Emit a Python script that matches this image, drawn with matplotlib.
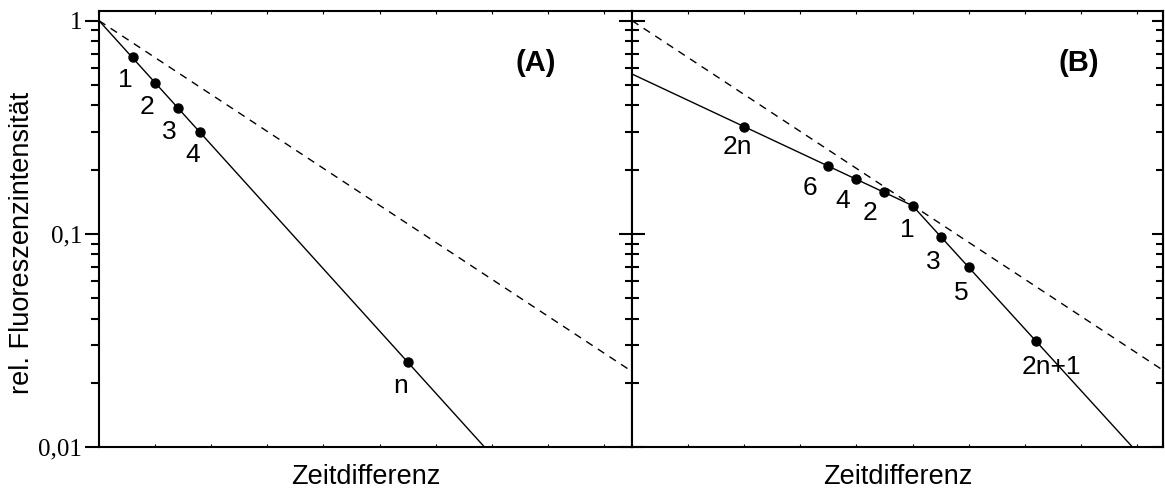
import matplotlib
matplotlib.use("Agg")
import matplotlib.pyplot as plt
from matplotlib.ticker import FixedLocator, LogLocator, NullFormatter, FixedFormatter

# ---- data -------------------------------------------------------------
# common reference decay (dashed) for both panels
ref_x = [0.0, 9.5]
ref_y = [1.0, 0.0226]

# panel A: single exponential decay
line_a_x = [0.0, 6.87]
line_a_y = [1.0, 0.01]
dots_a_x = [0.6, 1.0, 1.4, 1.8, 5.5]
dots_a_y = [0.672, 0.512, 0.391, 0.300, 0.0251]
labels_a = ["1", "2", "3", "4", "n"]

# panel B: alternating decay, slow (even) and fast (odd) branch
line_b_x = [0.0, 5.0, 8.92]
line_b_y = [0.562, 0.1356, 0.01]
dots_b_x = [2.0, 3.5, 4.0, 4.5, 5.0, 5.5, 6.0, 7.2]
dots_b_y = [0.318, 0.208, 0.180, 0.157, 0.1356, 0.097, 0.0697, 0.0315]
labels_b = ["2n", "6", "4", "2", "1", "3", "5", "2n+1"]

ytick_vals = [0.01, 0.1, 1.0]
ytick_text = ["0,01", "0,1", "1"]
xtick_vals = list(range(10))

# ---- layout -----------------------------------------------------------
W, H = 1165, 492
fig = plt.figure(figsize=(W / 100, H / 100), dpi=100)

bot = (H - 447) / H
top = (H - 11) / H
axA = fig.add_axes([99 / W, bot, (632 - 99) / W, top - bot])
axB = fig.add_axes([632 / W, bot, (1163 - 632) / W, top - bot])

sans = "Liberation Sans"
serif = "Liberation Serif"

off_a = [(-7, -23), (-8, -24), (-8, -24), (-7, -23), (-7, -24)]
off_b = [(-7, -20), (-18, -22), (-14, -22), (-14, -21), (-5, -24),
         (-7, -25), (-7, -26), (15, -26)]


def style(ax, xmax):
    ax.set_yscale("log")
    ax.set_ylim(0.01, 1.11)
    ax.set_xlim(0, xmax)
    for s in ax.spines.values():
        s.set_linewidth(1.5)
    ax.xaxis.set_major_locator(FixedLocator(xtick_vals))
    ax.xaxis.set_major_formatter(NullFormatter())
    ax.tick_params(axis="x", which="major", direction="in", length=2.5,
                   width=0.8, top=True, bottom=True)
    ax.yaxis.set_major_locator(FixedLocator(ytick_vals))
    ax.yaxis.set_minor_locator(LogLocator(base=10, subs=range(2, 10)))
    ax.yaxis.set_minor_formatter(NullFormatter())


def draw(ax, lx, ly, dx, dy, labels, offsets):
    ax.plot(ref_x, ref_y, color="black", lw=1.0, ls=(0, (5.5, 4.5)))
    ax.plot(lx, ly, color="black", lw=1.0)
    ax.plot(dx, dy, "o", color="black", ms=6.5, ls="none")
    for x, y, t, o in zip(dx, dy, labels, offsets):
        ax.annotate(t, (x, y), xytext=o, textcoords="offset pixels",
                    ha="center", va="center", fontsize=19, family=sans)


style(axA, 9.5)
style(axB, 9.465)

draw(axA, line_a_x, line_a_y, dots_a_x, dots_a_y, labels_a, off_a)
draw(axB, line_b_x, line_b_y, dots_b_x, dots_b_y, labels_b, off_b)

# y axis ticks: labelled outer ticks on A, shared inner spine, inner ticks on B's right
axA.yaxis.set_major_formatter(FixedFormatter(ytick_text))
axA.tick_params(axis="y", which="major", direction="out", length=10, width=1.5,
                left=True, right=False, labelsize=18, pad=2)
axA.tick_params(axis="y", which="minor", direction="out", length=6, width=1.5,
                left=True, right=False)
for lab in axA.get_yticklabels():
    lab.set_family(serif)

axB.yaxis.set_major_formatter(NullFormatter())
axB.tick_params(axis="y", which="major", direction="inout", length=19, width=1.5,
                left=True, right=False)
axB.tick_params(axis="y", which="minor", direction="inout", length=10.5, width=1.5,
                left=True, right=False)
# right-hand ticks of B pointing inward
axR = axB.secondary_yaxis("right")
axR.set_yscale("log")
axR.yaxis.set_major_locator(FixedLocator(ytick_vals))
axR.yaxis.set_minor_locator(LogLocator(base=10, subs=range(2, 10)))
axR.yaxis.set_major_formatter(NullFormatter())
axR.yaxis.set_minor_formatter(NullFormatter())
axR.tick_params(axis="y", which="major", direction="in", length=8, width=1.5)
axR.tick_params(axis="y", which="minor", direction="in", length=5, width=1.5)
axR.spines["right"].set_linewidth(1.5)

axA.text(0.82, 0.88, "(A)", transform=axA.transAxes, ha="center",
         va="center", fontsize=21, fontweight="bold", family=sans)
axB.text(0.8418, 0.88, "(B)", transform=axB.transAxes, ha="center",
         va="center", fontsize=21, fontweight="bold", family=sans)

fig.text(365.5 / W, 14.5 / H, "Zeitdifferenz", ha="center", va="center",
         fontsize=19.5, family=sans)
fig.text(897.5 / W, 14.5 / H, "Zeitdifferenz", ha="center", va="center",
         fontsize=19.5, family=sans)
fig.text(22 / W, (H - 243) / H, "rel. Fluoreszenzintensität", rotation=90,
         ha="center", va="center", fontsize=19.5, family=sans)

fig.savefig("out.png", dpi=100)
